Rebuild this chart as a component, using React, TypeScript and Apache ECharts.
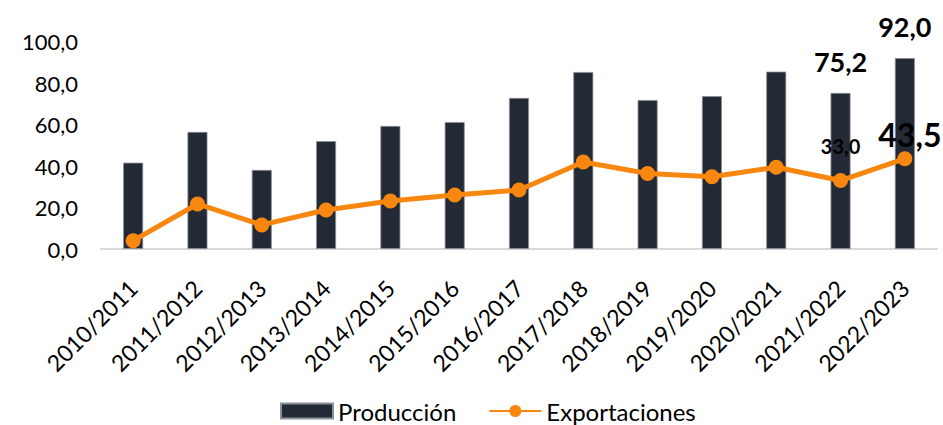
import React, { useEffect, useRef } from "react";
import * as echarts from "echarts";

const categories = [
  "2010/2011", "2011/2012", "2012/2013", "2013/2014", "2014/2015", "2015/2016", "2016/2017",
  "2017/2018", "2018/2019", "2019/2020", "2020/2021", "2021/2022", "2022/2023",
];
const produccion = [41.6, 56.4, 38.1, 52.0, 59.3, 61.2, 72.8, 85.3, 71.8, 73.7, 85.5, 75.2, 92.0];
const exportaciones = [4.0, 21.7, 11.6, 18.8, 23.1, 26.0, 28.4, 41.9, 36.4, 34.8, 39.4, 33.0, 43.5];
const yTicks = { min: 0, max: 100, interval: 20 };
const labeledBars = [11, 12];

const fmt = (v: number) => v.toFixed(1).replace(".", ",");
const FONT = "Lato, 'Noto Sans', sans-serif";

export default function App() {
  const ref = useRef<HTMLDivElement>(null);
  useEffect(() => {
    if (!ref.current) return;
    const chart = echarts.init(ref.current, undefined, { renderer: "svg" });
    const barData = produccion.map((v, i) =>
      labeledBars.includes(i)
        ? {
            value: v,
            label: {
              show: true,
              position: "top",
              distance: 18,
              fontSize: 27,
              fontWeight: "bold",
              color: "#000",
              fontFamily: FONT,
              formatter: (p: any) => fmt(p.value),
            },
          }
        : v
    );
    const lineData = exportaciones.map((v, i) => {
      if (i === 11)
        return {
          value: v,
          label: {
            show: true,
            position: "top",
            distance: 17,
            fontSize: 20,
            fontWeight: "bold",
            color: "#000",
            fontFamily: FONT,
            formatter: (p: any) => fmt(p.value),
          },
        };
      if (i === 12)
        return {
          value: v,
          label: {
            show: true,
            position: "top",
            distance: 1,
            offset: [5, 0],
            fontSize: 32,
            fontWeight: "bold",
            color: "#000",
            fontFamily: FONT,
            formatter: (p: any) => fmt(p.value),
          },
        };
      return v;
    });
    chart.setOption({
      animation: false,
      textStyle: { fontFamily: FONT },
      grid: { left: 101, right: 6, top: 41.5, bottom: 176, containLabel: false },
      legend: {
        left: 275,
        top: 394,
        itemGap: 32,
        itemWidth: 52,
        itemHeight: 15,
        textStyle: { fontSize: 24, color: "#000", fontFamily: FONT },
        data: [
          { name: "Producción", icon: "rect" },
          { name: "Exportaciones" },
        ],
      },
      xAxis: {
        type: "category",
        data: categories,
        axisLine: { lineStyle: { color: "#d9d9d9", width: 2 } },
        axisTick: { show: false },
        axisLabel: { rotate: 45, fontSize: 23, color: "#000", margin: 35, interval: 0, fontFamily: FONT },
      },
      yAxis: {
        type: "value",
        min: yTicks.min,
        max: yTicks.max,
        interval: yTicks.interval,
        splitLine: { show: false },
        axisLine: { show: false },
        axisTick: { show: false },
        axisLabel: { fontSize: 22, color: "#000", margin: 23, fontFamily: FONT, formatter: (v: number) => fmt(v) },
      },
      series: [
        {
          name: "Producción",
          type: "bar",
          data: barData,
          barWidth: 20,
          itemStyle: { color: "#232935", borderColor: "#8a919b", borderWidth: 0.8 },
        },
        {
          name: "Exportaciones",
          type: "line",
          data: lineData,
          symbol: "circle",
          symbolSize: 15,
          lineStyle: { color: "#F7870F", width: 5 },
          itemStyle: { color: "#F7870F" },
          z: 3,
        },
      ],
    });
    return () => chart.dispose();
  }, []);
  return <div ref={ref} style={{ position: "absolute", left: 0, top: 0, width: 943, height: 425 }} />;
}
